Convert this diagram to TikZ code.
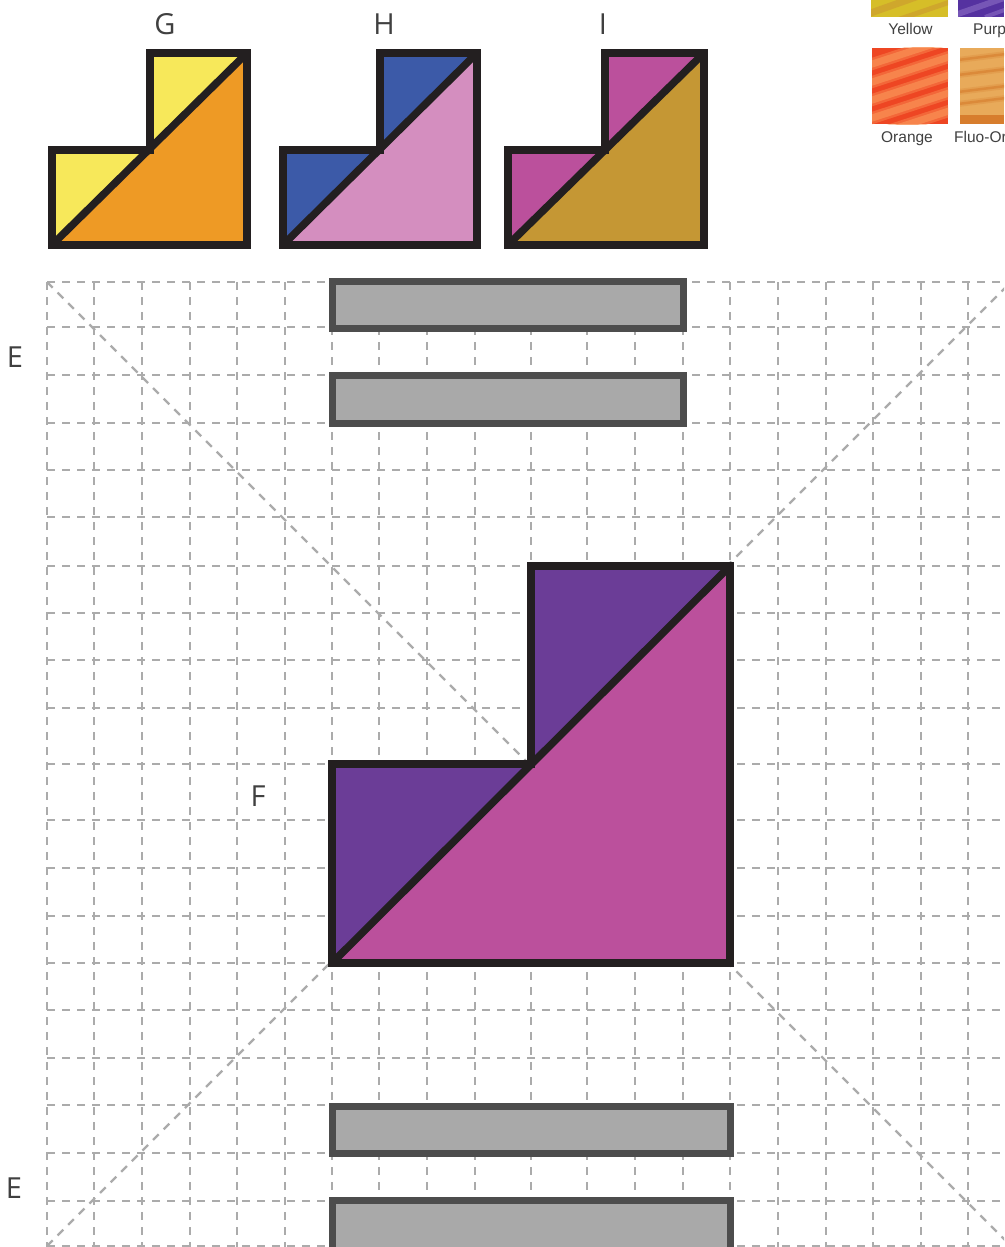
\documentclass[tikz,border=0pt]{standalone}
\usepackage{fontspec}
\setmainfont{Open Sans}
\newfontfamily\swatchfont{Liberation Sans}
\definecolor{inkline}{HTML}{231F20}
\definecolor{gridgray}{HTML}{ABABAB}
\definecolor{barline}{HTML}{4D4D4D}
\definecolor{barfill}{HTML}{A9A9A9}
\definecolor{labelgray}{HTML}{404040}
\definecolor{mainpurple}{RGB}{107,61,151}
\definecolor{mainmagenta}{RGB}{187,80,156}
\definecolor{gyellow}{RGB}{247,232,90}
\definecolor{gorange}{RGB}{238,154,37}
\definecolor{hblue}{RGB}{60,90,168}
\definecolor{hpink}{RGB}{212,142,191}
\definecolor{iochre}{RGB}{197,151,52}
\definecolor{swyellow}{RGB}{214,190,40}
\definecolor{swyellowb}{RGB}{200,140,50}
\definecolor{swpurple}{RGB}{85,50,160}
\definecolor{swpurpleb}{RGB}{160,130,210}
\definecolor{sworange}{RGB}{238,70,35}
\definecolor{sworangeb}{RGB}{250,145,85}
\definecolor{swfluo}{RGB}{232,170,90}
\definecolor{swfluob}{RGB}{215,125,45}
\tikzset{
  gridline/.style={draw=gridgray,line width=2.4pt,dash pattern=on 8pt off 7pt},
  outline/.style={draw=inkline,line width=7.5pt,line join=miter,line cap=round},
  bar/.style={draw=barline,fill=barfill,line width=7pt,line join=miter},
  letter/.style={font=\fontsize{29}{29}\selectfont,text=labelgray,inner sep=0pt,anchor=center},
  swatchlabel/.style={font=\swatchfont\fontsize{15.5}{15.5}\selectfont,text=black!75,inner sep=0pt,anchor=base},
  stripe/.style={line width=#1,line cap=butt}
}
\newcommand{\stepblock}[5]{%
  \fill[#4] (#1,245) -- (#1,150) -- (#2,150) -- (#2,53) -- (#3,53) -- cycle;
  \fill[#5] (#1,245) -- (#3,53) -- (#3,245) -- cycle;
  \draw[outline] (#1,245) -- (#1,150) -- (#2,150) -- (#2,53) -- (#3,53) -- (#3,245) -- cycle;
  \draw[outline] (#1,245) -- (#3,53);
}
\begin{document}
\begin{tikzpicture}[x=1pt,y=-1pt]
\useasboundingbox (0,0) rectangle (1004,1247);
\clip (0,0) rectangle (1004,1247);
\fill[white] (0,0) rectangle (1004,1247);
% grid
\foreach \gy in {282,327,375,423,470,517,566,613,660,708,764,820,868,916,963,1010,1058,1105,1153,1201,1246}
  \draw[gridline] (47,\gy) -- (1004,\gy);
\foreach \gx in {47,94,142,190,237,285,332,379,427,475,531,587,635,683,730,778,826,873,921,968}
  \draw[gridline] (\gx,282) -- (\gx,1247);
\draw[gridline] (47,282) -- (1012,1247);
\draw[gridline] (47,1246) -- (1011,282);
% bars
\draw[bar] (332,281) rectangle (683,328);
\draw[bar] (332,375) rectangle (683,423);
\draw[bar] (332,1106.5) rectangle (730,1153.5);
\draw[bar] (332,1200.5) rectangle (730,1260);
% main figure
\fill[mainpurple] (332,963) -- (332,764) -- (531,764) -- (531,566) -- (730,566) -- cycle;
\fill[mainmagenta] (332,963) -- (730,566) -- (730,963) -- cycle;
\draw[outline] (332,963) -- (332,764) -- (531,764) -- (531,566) -- (730,566) -- (730,963) -- cycle;
\draw[outline] (332,963) -- (730,566);
% small figures
\stepblock{52}{150}{247}{gyellow}{gorange}
\stepblock{283}{380}{477}{hblue}{hpink}
\stepblock{508}{605}{704}{mainmagenta}{iochre}
% swatches
\begin{scope}
\clip (871,-5) rectangle (948,17);
\fill[swyellow] (871,-5) rectangle (948,17);
\draw[stripe=7pt,swyellowb,opacity=.45] (865,15) -- (930,-8);
\draw[stripe=5pt,swyellowb,opacity=.45] (900,19) -- (950,2);
\end{scope}
\begin{scope}
\clip (958,-5) rectangle (1004,17);
\fill[swpurple] (958,-5) rectangle (1004,17);
\draw[stripe=6pt,swpurpleb,opacity=.45] (955,15) -- (1004,-2);
\draw[stripe=4pt,swpurpleb,opacity=.45] (985,17) -- (1010,8);
\end{scope}
\begin{scope}
\clip (872,48) rectangle (948,124);
\fill[sworange] (872,48) rectangle (948,124);
\foreach \sy in {66,84,102,120,138}{
  \draw[stripe=12pt,sworangeb,opacity=.45] (866,\sy) -- (952,\sy-28);
  \draw[stripe=7pt,sworangeb,opacity=.7] (866,\sy) -- (952,\sy-28);
}
\end{scope}
\begin{scope}
\clip (960,48) rectangle (1004,124);
\fill[swfluo] (960,48) rectangle (1004,124);
\foreach \sy in {60,75,92,104}{
  \draw[stripe=6pt,swfluob,opacity=.25] (958,\sy) -- (1006,\sy-6);
  \draw[stripe=2.5pt,swfluob,opacity=.6] (958,\sy) -- (1006,\sy-6);
}
\fill[swfluob] (960,115) rectangle (1004,124);
\end{scope}
% labels
\node[letter] (lblG) at (165,24) {G};
\node[letter] (lblH) at (384,24) {H};
\node[letter] (lblI) at (603,24) {I};
\node[letter] (lblEa) at (15,357) {E};
\node[letter] (lblEb) at (14,1188) {E};
\node[letter] (lblF) at (258,796) {F};
\node[swatchlabel] (swY) at (910.5,35) {Yellow};
\node[swatchlabel,anchor=base west] (swP) at (973,35) {Purple};
\node[swatchlabel] (swO) at (907,142) {Orange};
\node[swatchlabel,anchor=base west] (swF) at (954,142) {Fluo-Orange};
\end{tikzpicture}
\end{document}
